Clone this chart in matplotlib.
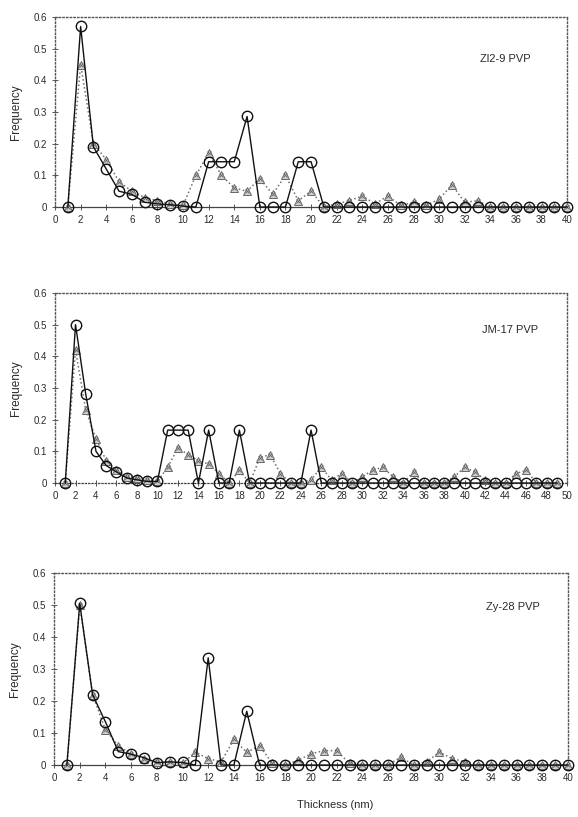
import numpy as np
import matplotlib
matplotlib.use("Agg")
import matplotlib.pyplot as plt

plt.rcParams['font.family'] = ['Liberation Sans', 'DejaVu Sans']

# panel 1: Zl2-9 PVP, thickness 1..40 nm
x1 = np.arange(1, 41)
circ1 = [0, 0.57, 0.19, 0.12, 0.05, 0.04, 0.015, 0.01, 0.007, 0.003,
         0, 0.143, 0.143, 0.143, 0.286, 0, 0, 0, 0.143, 0.143,
         0, 0, 0, 0, 0, 0, 0, 0, 0, 0,
         0, 0, 0, 0, 0, 0, 0, 0, 0, 0]
tri1 = [0, 0.45, 0.2, 0.15, 0.08, 0.05, 0.03, 0.02, 0.01, 0.005,
        0.1, 0.17, 0.1, 0.06, 0.05, 0.09, 0.04, 0.1, 0.02, 0.05,
        0, 0.01, 0.02, 0.035, 0.01, 0.035, 0.005, 0.015, 0.005, 0.025,
        0.07, 0.015, 0.02, 0, 0, 0, 0, 0, 0, 0]

# panel 2: JM-17 PVP, thickness 1..49 nm
x2 = np.arange(1, 50)
circ2 = [0, 0.5, 0.28, 0.1, 0.055, 0.035, 0.016, 0.01, 0.005, 0.005,
         0.167, 0.167, 0.167, 0, 0.167, 0, 0, 0.167, 0, 0,
         0, 0, 0, 0, 0.167, 0, 0, 0, 0, 0,
         0, 0, 0, 0, 0, 0, 0, 0, 0, 0,
         0, 0, 0, 0, 0, 0, 0, 0, 0]
tri2 = [0, 0.42, 0.23, 0.14, 0.07, 0.04, 0.02, 0.015, 0.01, 0.005,
        0.05, 0.11, 0.09, 0.07, 0.06, 0.03, 0, 0.04, 0, 0.08,
        0.09, 0.03, 0, 0, 0.01, 0.05, 0.01, 0.03, 0, 0.02,
        0.04, 0.05, 0.02, 0, 0.035, 0, 0, 0, 0.02, 0.05,
        0.035, 0.01, 0, 0, 0.03, 0.04, 0, 0, 0]

# panel 3: Zy-28 PVP, thickness 1..40 nm
x3 = np.arange(1, 41)
circ3 = [0, 0.505, 0.22, 0.135, 0.042, 0.034, 0.023, 0.007, 0.01, 0.008,
         0, 0.335, 0, 0, 0.168, 0, 0, 0, 0, 0,
         0, 0, 0, 0, 0, 0, 0, 0, 0, 0,
         0, 0, 0, 0, 0, 0, 0, 0, 0, 0]
tri3 = [0, 0.5, 0.22, 0.11, 0.06, 0.035, 0.02, 0.01, 0.01, 0.005,
        0.04, 0.02, 0.01, 0.08, 0.04, 0.06, 0.005, 0, 0.015, 0.035,
        0.045, 0.045, 0.005, 0, 0, 0, 0.025, 0, 0.01, 0.04,
        0.02, 0.01, 0, 0, 0, 0, 0, 0, 0, 0]

panels = [
    ("Zl2-9 PVP", x1, circ1, tri1, 40, [0.0952, 0.7466, 0.886, 0.2326], (0.879, 0.78), '-'),
    ("JM-17 PVP", x2, circ2, tri2, 50, [0.0952, 0.4088, 0.886, 0.2326], (0.889, 0.805), ':'),
    ("Zy-28 PVP", x3, circ3, tri3, 40, [0.0935, 0.0636, 0.889, 0.2350], (0.893, 0.823), '-'),
]

TXT = '#2a2a2a'
GREY = '#6e6e6e'

fig = plt.figure(figsize=(5.78, 8.17), dpi=100)

for name, x, circ, tri, xmax, rect, lab_pos, bottom_ls in panels:
    ax = fig.add_axes(rect)

    # hatched triangles, dotted line
    ax.plot(x, tri, linestyle=':', color=GREY, linewidth=1.1,
            marker='^', markersize=5.5, markerfacecolor='#d0d0d0',
            markeredgecolor='#666666', markeredgewidth=0.7, clip_on=False, zorder=3)
    ax.plot(x, tri, linestyle='none', marker='x', markersize=3,
            markeredgecolor='#666666', markeredgewidth=0.6, clip_on=False, zorder=3)
    # open circles, solid line
    ax.plot(x, circ, linestyle='-', color='#111111', linewidth=1.0,
            marker='o', markersize=7.5, markerfacecolor='none',
            markeredgecolor='#111111', markeredgewidth=1.0, clip_on=False, zorder=4)

    ax.set_xlim(0, xmax)
    ax.set_ylim(0, 0.6)
    ax.set_xticks(np.arange(0, xmax + 1, 2))
    ax.set_yticks(np.arange(0, 0.61, 0.1))
    ax.set_yticklabels(['0', '0.1', '0.2', '0.3', '0.4', '0.5', '0.6'])
    ax.tick_params(axis='both', direction='inout', length=4, width=0.7,
                   colors='#555555', labelcolor=TXT, labelsize=7, pad=4)

    for side in ['top', 'right', 'left']:
        ax.spines[side].set_linestyle(':')
        ax.spines[side].set_color('#555555')
        ax.spines[side].set_linewidth(1.0)
    ax.spines['bottom'].set_linestyle(bottom_ls)
    ax.spines['bottom'].set_color('#444444')
    ax.spines['bottom'].set_linewidth(0.9)

    ax.set_ylabel("Frequency", fontsize=8.5, color=TXT, labelpad=8)
    ax.text(lab_pos[0], lab_pos[1], name, transform=ax.transAxes,
            ha='center', va='center', fontsize=8, color=TXT)

fig.text(0.58, 0.015, "Thickness (nm)", ha='center', va='center', fontsize=8, color=TXT)

fig.savefig("out.png", dpi=100)
